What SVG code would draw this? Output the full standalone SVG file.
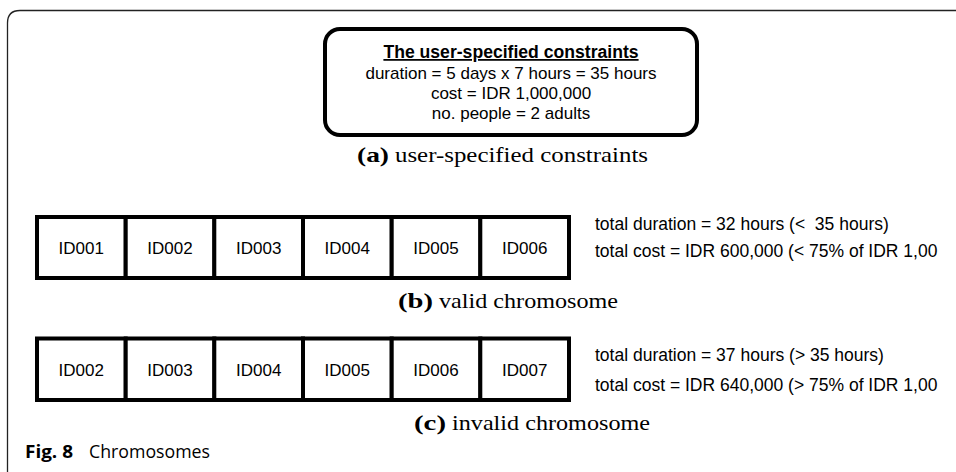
<svg xmlns="http://www.w3.org/2000/svg" width="956" height="472" viewBox="0 0 956 472">
  <style>
    .frame { fill: none; stroke: #222; stroke-width: 1.3; }
    .box { fill: #fff; stroke: #000; stroke-width: 4; }
    .cell { fill: #fff; stroke: #000; stroke-width: 4; }
    .sans { font-family: "Liberation Sans", Arial, sans-serif; fill: #000; }
    .id { font-size: 17px; text-anchor: middle; }
    .title { font-size: 17.6px; font-weight: bold; text-anchor: middle; text-decoration: underline; }
    .line { font-size: 17px; text-anchor: middle; }
    .note { font-size: 17.5px; white-space: pre; }
    .cap { font-family: "Liberation Serif", "Times New Roman", serif; font-size: 21px; fill: #000; }
    .capb { font-weight: bold; }
    .fig { font-family: "Open Sans", "Noto Sans", sans-serif; font-size: 18px; fill: #000; }
  </style>

  <rect width="956" height="472" fill="#fff"/>

  <!-- page frame (top and left edges only) -->
  <path class="frame" d="M7.5,476 V23 Q7.5,10.5 20,10.5 H960"/>

  <!-- (a) constraint box -->
  <g id="constraints">
    <rect class="box" x="325" y="29" width="372" height="106" rx="15" ry="15"/>
    <text class="sans title" x="511" y="58">The user-specified constraints</text>
    <text class="sans line" x="511" y="78.5">duration = 5 days x 7 hours = 35 hours</text>
    <text class="sans line" x="511" y="99">cost = IDR 1,000,000</text>
    <text class="sans line" x="511" y="119">no. people = 2 adults</text>
  </g>
  <g id="caption-a">
    <text class="cap capb" x="357" y="162" textLength="32" lengthAdjust="spacingAndGlyphs">(a)</text>
    <text class="cap" x="395" y="162" textLength="253" lengthAdjust="spacingAndGlyphs">user-specified constraints</text>
  </g>

  <!-- (b) valid chromosome -->
  <g id="chromosome-valid">
    <g id="b-ID001"><rect class="cell" x="37" y="217" width="88.7" height="61"/><text class="sans id" x="81.3" y="253.5">ID001</text></g>
    <g id="b-ID002"><rect class="cell" x="125.7" y="217" width="88.7" height="61"/><text class="sans id" x="170" y="253.5">ID002</text></g>
    <g id="b-ID003"><rect class="cell" x="214.3" y="217" width="88.7" height="61"/><text class="sans id" x="258.7" y="253.5">ID003</text></g>
    <g id="b-ID004"><rect class="cell" x="303" y="217" width="88.7" height="61"/><text class="sans id" x="347.3" y="253.5">ID004</text></g>
    <g id="b-ID005"><rect class="cell" x="391.7" y="217" width="88.7" height="61"/><text class="sans id" x="436" y="253.5">ID005</text></g>
    <g id="b-ID006"><rect class="cell" x="480.3" y="217" width="88.7" height="61"/><text class="sans id" x="524.7" y="253.5">ID006</text></g>
  </g>
  <g id="notes-valid">
    <text class="sans note" x="595" y="230" xml:space="preserve">total duration = 32 hours (&lt;  35 hours)</text>
    <text class="sans note" x="595" y="257">total cost = IDR 600,000 (&lt; 75% of IDR 1,00</text>
  </g>
  <g id="caption-b">
    <text class="cap capb" x="398" y="308" textLength="35" lengthAdjust="spacingAndGlyphs">(b)</text>
    <text class="cap" x="439" y="308" textLength="179" lengthAdjust="spacingAndGlyphs">valid chromosome</text>
  </g>

  <!-- (c) invalid chromosome -->
  <g id="chromosome-invalid">
    <g id="c-ID002"><rect class="cell" x="37" y="338.5" width="88.7" height="61.5"/><text class="sans id" x="81.3" y="375.5">ID002</text></g>
    <g id="c-ID003"><rect class="cell" x="125.7" y="338.5" width="88.7" height="61.5"/><text class="sans id" x="170" y="375.5">ID003</text></g>
    <g id="c-ID004"><rect class="cell" x="214.3" y="338.5" width="88.7" height="61.5"/><text class="sans id" x="258.7" y="375.5">ID004</text></g>
    <g id="c-ID005"><rect class="cell" x="303" y="338.5" width="88.7" height="61.5"/><text class="sans id" x="347.3" y="375.5">ID005</text></g>
    <g id="c-ID006"><rect class="cell" x="391.7" y="338.5" width="88.7" height="61.5"/><text class="sans id" x="436" y="375.5">ID006</text></g>
    <g id="c-ID007"><rect class="cell" x="480.3" y="338.5" width="88.7" height="61.5"/><text class="sans id" x="524.7" y="375.5">ID007</text></g>
  </g>
  <g id="notes-invalid">
    <text class="sans note" x="595" y="360.5">total duration = 37 hours (&gt; 35 hours)</text>
    <text class="sans note" x="595" y="390.5">total cost = IDR 640,000 (&gt; 75% of IDR 1,00</text>
  </g>
  <g id="caption-c">
    <text class="cap capb" x="414" y="430" textLength="32" lengthAdjust="spacingAndGlyphs">(c)</text>
    <text class="cap" x="452" y="430" textLength="198" lengthAdjust="spacingAndGlyphs">invalid chromosome</text>
  </g>

  <!-- figure caption -->
  <g id="figure-caption">
    <text class="fig" x="25" y="458" font-weight="bold" textLength="48" lengthAdjust="spacingAndGlyphs">Fig. 8</text>
    <text class="fig" x="89" y="458" textLength="121" lengthAdjust="spacingAndGlyphs">Chromosomes</text>
  </g>

  <!-- no connectors in this figure -->
  <g id="connectors"/>
</svg>
